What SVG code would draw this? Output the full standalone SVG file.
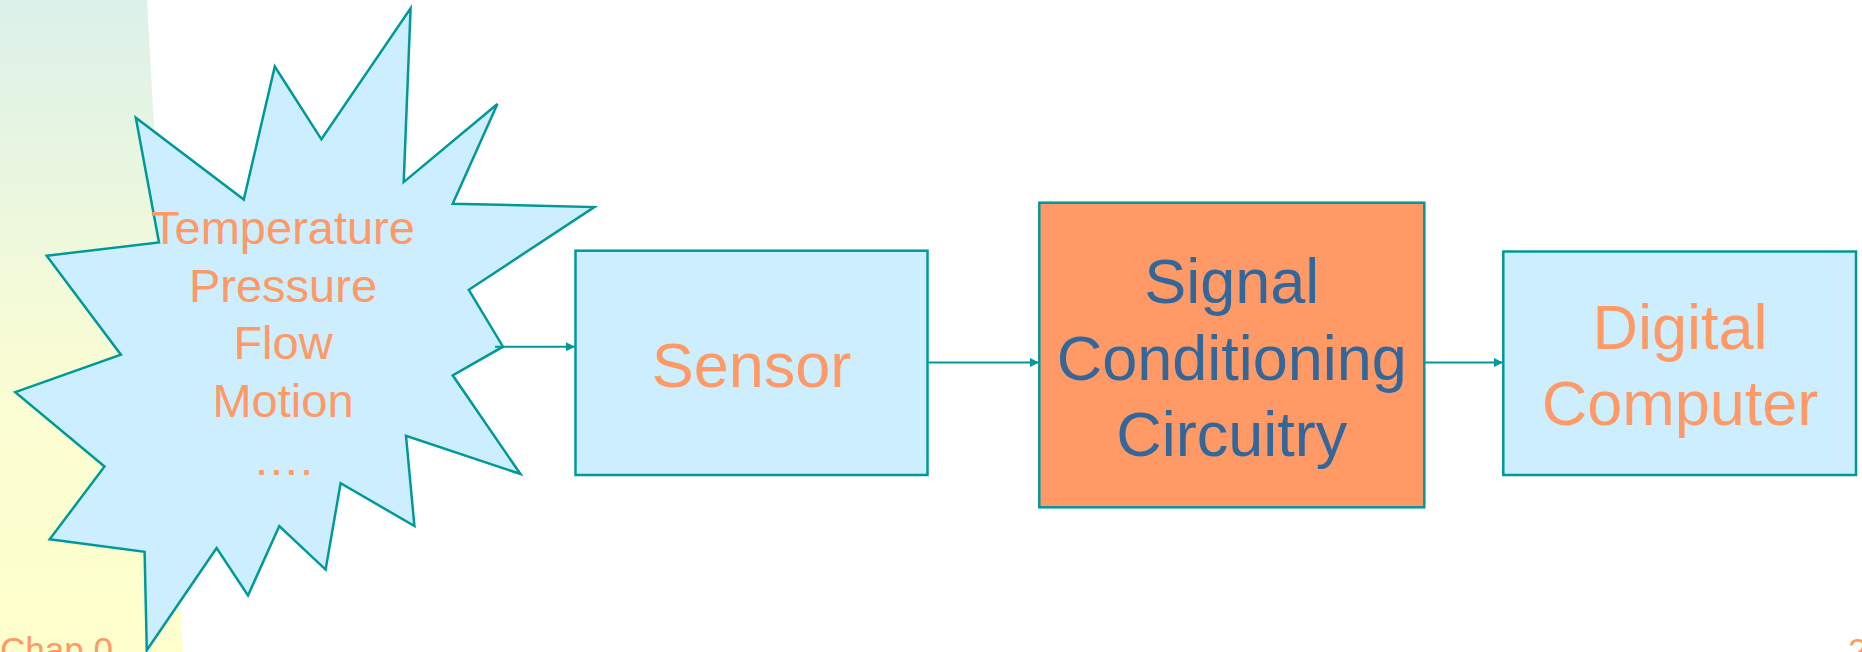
<svg xmlns="http://www.w3.org/2000/svg" width="1862" height="652" viewBox="0 0 1862 652">
  <defs>
    <linearGradient id="strip" x1="0" y1="0" x2="0" y2="1">
      <stop offset="0" stop-color="#dcf1ea"/>
      <stop offset="0.6" stop-color="#fafdd2"/>
      <stop offset="1" stop-color="#ffffcc"/>
    </linearGradient>
    <marker id="arr" viewBox="0 0 10 10" refX="10" refY="5" markerWidth="10" markerHeight="9" orient="auto" markerUnits="userSpaceOnUse">
      <path d="M0,0 L10,5 L0,10 z" fill="#009999"/>
    </marker>
    <style>
      .shape { stroke: #009999; stroke-width: 2.5; }
      .blue { fill: #cceeff; }
      .orange { fill: #ff9966; }
      .t { font-family: "Liberation Sans", Arial, sans-serif; text-anchor: middle; }
      .big { font-size: 63px; }
      .mid { font-size: 47px; }
      .tOr { fill: #ff9966; }
      .tBl { fill: #336699; }
      .conn { stroke: #009999; stroke-width: 2; fill: none; marker-end: url(#arr); }
      .foot { font-family: "Liberation Sans", Arial, sans-serif; font-size: 35px; fill: #ff9966; }
    </style>
  </defs>
  <rect x="0" y="0" width="1862" height="652" fill="#ffffff"/>
  <polygon points="0,0 147,0 183,652 0,652" fill="url(#strip)"/>
  <text class="foot" x="0" y="662">Chap 0</text>
  <text class="foot" x="1848" y="663">2</text>

  <g id="phenomena">
    <polygon class="shape blue" points="410.6,8.3 403.7,182.1 497.4,104 452.7,203.7 594.3,207.1 468.8,289.8 503,346.7 452.7,375.3 520.4,474 406,435.9 414.4,526 340.6,483.2 325.6,569.6 279.3,526 248,595.4 216.6,548 146.8,650.3 144.6,551.8 49.7,539.3 104.5,466.5 15.3,392.1 120.9,354.7 46.7,255.7 159,242.5 135.8,117.7 243.8,199.6 274.8,66.5 321.4,139.3"/>
    <text class="t mid tOr" x="283" y="243.5">Temperature</text>
    <text class="t mid tOr" x="283" y="301.5">Pressure</text>
    <text class="t mid tOr" x="283" y="358.5">Flow</text>
    <text class="t mid tOr" x="283" y="416.5">Motion</text>
    <text class="t mid tOr" x="283" y="474.5">….</text>
  </g>

  <g id="sensor">
    <rect class="shape blue" x="575.5" y="250.7" width="352" height="224.3"/>
    <text class="t big tOr" x="751.5" y="387">Sensor</text>
  </g>

  <g id="signal-conditioning">
    <rect class="shape orange" x="1039.3" y="202.7" width="385" height="304.6"/>
    <text class="t big tBl" x="1231.8" y="303.3">Signal</text>
    <text class="t big tBl" x="1231.8" y="380">Conditioning</text>
    <text class="t big tBl" x="1231.8" y="455.7">Circuitry</text>
  </g>

  <g id="digital-computer">
    <rect class="shape blue" x="1503.3" y="251.5" width="352.7" height="223.5"/>
    <text class="t big tOr" x="1680" y="349.3">Digital</text>
    <text class="t big tOr" x="1680" y="425">Computer</text>
  </g>

  <g id="connectors">
    <line class="conn" x1="495" y1="346.7" x2="575" y2="346.7"/>
    <line class="conn" x1="927.5" y1="362.5" x2="1039" y2="362.5"/>
    <line class="conn" x1="1424.3" y1="362.5" x2="1503" y2="362.5"/>
  </g>
</svg>
